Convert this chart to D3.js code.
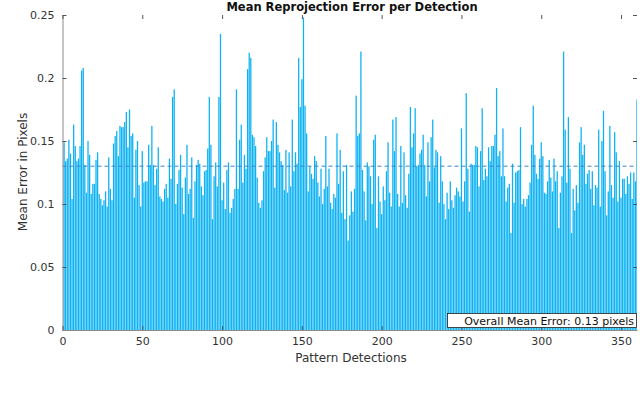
<!DOCTYPE html>
<html>
<head>
<meta charset="utf-8">
<script src="https://cdn.jsdelivr.net/npm/d3@7"></script>
<style>
  body { margin: 0; background: #fff; }
  svg { display: block; font-family: "DejaVu Sans", sans-serif; }
</style>
</head>
<body>
<div id="chart"></div>
<script>
// per-detection reprojection error in chunks
const errA = [0.149,0.134,0.136,0.151,0.140,0.104,0.163,0.146,0.134,0.136,0.146,0.206,0.208,0.131,0.109,0.150,0.139,0.108,0.116,0.116,0.135,0.141,0.108,0.104,0.099,0.103,0.110,0.098,0.137,0.112,0.103,0.148,0.154,0.158,0.138,0.162,0.161,0.161,0.165,0.173,0.145,0.175,0.154,0.156,0.105,0.143];
const errB = [0.150,0.115,0.098,0.142,0.117,0.118,0.118,0.147,0.131,0.162,0.131,0.115,0.128,0.145,0.106,0.104,0.102,0.112,0.116,0.105,0.136,0.120,0.185,0.191,0.100,0.116,0.127,0.139,0.113,0.092,0.121,0.147,0.108,0.112,0.137,0.089,0.118,0.131,0.135,0.132,0.114,0.107,0.126,0.127,0.144,0.185,0.147];
const errC = [0.088,0.122,0.133,0.114,0.185,0.235,0.103,0.117,0.096,0.127,0.133,0.093,0.097,0.104,0.112,0.191,0.112,0.151,0.163,0.117,0.139,0.128,0.207,0.220,0.216,0.155,0.153,0.146,0.121,0.101,0.097,0.103,0.126,0.137,0.153,0.142,0.142,0.150,0.167,0.113,0.165,0.147,0.141,0.134,0.131,0.111,0.143];
const errD = [0.109,0.141,0.114,0.167,0.126,0.141,0.132,0.216,0.177,0.199,0.248,0.178,0.156,0.110,0.130,0.124,0.120,0.138,0.134,0.117,0.106,0.128,0.100,0.112,0.154,0.114,0.128,0.101,0.096,0.108,0.105,0.156,0.116,0.143,0.093,0.126,0.088,0.131,0.071,0.091,0.110,0.094,0.112,0.186,0.154,0.156,0.221];
const errE = [0.127,0.110,0.087,0.133,0.130,0.122,0.100,0.151,0.155,0.081,0.122,0.102,0.092,0.114,0.103,0.126,0.149,0.109,0.098,0.167,0.142,0.169,0.108,0.098,0.146,0.101,0.141,0.107,0.097,0.124,0.177,0.145,0.156,0.176,0.130,0.131,0.140,0.143,0.155,0.131,0.106,0.149,0.118,0.153,0.167,0.129,0.143];
const errF = [0.141,0.101,0.138,0.118,0.100,0.088,0.109,0.096,0.118,0.103,0.097,0.107,0.113,0.110,0.106,0.160,0.102,0.118,0.188,0.128,0.094,0.132,0.131,0.131,0.146,0.145,0.114,0.142,0.176,0.119,0.128,0.122,0.145,0.134,0.146,0.146,0.155,0.192,0.138,0.142,0.122,0.160,0.122,0.102,0.113,0.116,0.077];
const errG = [0.132,0.101,0.125,0.126,0.127,0.161,0.100,0.104,0.098,0.104,0.107,0.117,0.147,0.178,0.139,0.124,0.120,0.136,0.149,0.138,0.109,0.108,0.118,0.135,0.121,0.110,0.136,0.118,0.126,0.081,0.109,0.122,0.221,0.159,0.117,0.169,0.128,0.077,0.112,0.095,0.115,0.101,0.149,0.161,0.139,0.147,0.116];
const errH = [0.124,0.127,0.112,0.126,0.099,0.115,0.113,0.159,0.098,0.150,0.174,0.126,0.091,0.110,0.162,0.115,0.105,0.157,0.141,0.102,0.134,0.105,0.120,0.120,0.108,0.122,0.116,0.125,0.104,0.125,0.118,0.183];

const meanErr = 0.13;
const xTicks = [0, 50, 100, 150, 200, 250, 300, 350];
const yTicks = [0, 0.05, 0.1, 0.15, 0.2, 0.25];

const errors = [].concat(errA, errB, errC, errD, errE, errF, errG, errH);

const W = 640, H = 395;
const padL = 62.5, padR = 637, padT = 15, padB = 330;

const svg = d3.select("#chart").append("svg")
  .attr("width", W)
  .attr("height", H);

const x = d3.scaleLinear().domain([0, 360]).range([padL, padR]);
const y = d3.scaleLinear().domain([0, 0.25]).range([padB, padT]);

svg.append("clipPath").attr("id", "plotclip")
  .append("rect")
  .attr("x", padL).attr("y", padT)
  .attr("width", padR - padL).attr("height", padB - padT);

// bars, 0.8 wide like matlab's default
svg.append("g")
  .attr("clip-path", "url(#plotclip)")
  .selectAll("rect")
  .data(errors)
  .enter()
  .append("rect")
  .attr("x", (d, i) => x(i + 1 - 0.4))
  .attr("width", x(0.8) - x(0))
  .attr("y", d => y(d))
  .attr("height", d => y(0) - y(d))
  .attr("fill", "#0db2f3");

// mean line
svg.append("line")
  .attr("x1", x(0)).attr("x2", x(360))
  .attr("y1", y(meanErr)).attr("y2", y(meanErr))
  .attr("stroke", "#3a86c8")
  .attr("stroke-width", 1)
  .attr("stroke-dasharray", "4,3");

// axes
const fmtY = d => d === 0 ? "0" : String(d);

const yAxis = d3.axisLeft(y).tickValues(yTicks).tickFormat(fmtY).tickSizeInner(-4).tickSizeOuter(0).tickPadding(8);
const gy = svg.append("g").attr("transform", "translate(" + padL + ",0)").call(yAxis);

const yAxisR = d3.axisRight(y).tickValues(yTicks).tickFormat("").tickSizeInner(-4).tickSizeOuter(0);
const gyr = svg.append("g").attr("transform", "translate(" + padR + ",0)").call(yAxisR);
gyr.select(".domain").remove();

const xAxis = d3.axisBottom(x).tickValues(xTicks).tickFormat(d3.format("d")).tickSizeInner(-4).tickSizeOuter(0).tickPadding(7);
const gx = svg.append("g").attr("transform", "translate(0," + padB + ")").call(xAxis);

const xAxisT = d3.axisTop(x).tickValues(xTicks).tickFormat("").tickSizeInner(-4).tickSizeOuter(0);
const gxt = svg.append("g").attr("transform", "translate(0," + padT + ")").call(xAxisT);
gxt.select(".domain").remove();

[gy, gyr, gx, gxt].forEach(g => {
  g.selectAll(".domain").attr("stroke", "#8c8c8c");
  g.selectAll(".tick line").attr("stroke", "#555");
  g.selectAll(".tick text").attr("fill", "#333").style("font-size", "11px").style("font-family", "DejaVu Sans");
});

// legend box
const legText = "Overall Mean Error: 0.13 pixels";
svg.append("rect")
  .attr("x", 447.5).attr("y", 313.5)
  .attr("width", 189).attr("height", 14)
  .attr("fill", "#fff")
  .attr("stroke", "#222")
  .attr("stroke-width", 0.8);
svg.append("text")
  .attr("x", 634).attr("y", 325)
  .attr("text-anchor", "end")
  .style("font-size", "11px")
  .attr("fill", "#111")
  .text(legText);

// titles
svg.append("text")
  .attr("x", 352).attr("y", 10.5)
  .attr("text-anchor", "middle")
  .style("font-size", "11.5px")
  .style("font-weight", "bold")
  .attr("fill", "#111")
  .text("Mean Reprojection Error per Detection");

svg.append("text")
  .attr("x", 351).attr("y", 362)
  .attr("text-anchor", "middle")
  .style("font-size", "12px")
  .attr("fill", "#333")
  .text("Pattern Detections");

svg.append("text")
  .attr("transform", "translate(27,172) rotate(-90)")
  .attr("text-anchor", "middle")
  .style("font-size", "12px")
  .attr("fill", "#333")
  .text("Mean Error in Pixels");
</script>
</body>
</html>
